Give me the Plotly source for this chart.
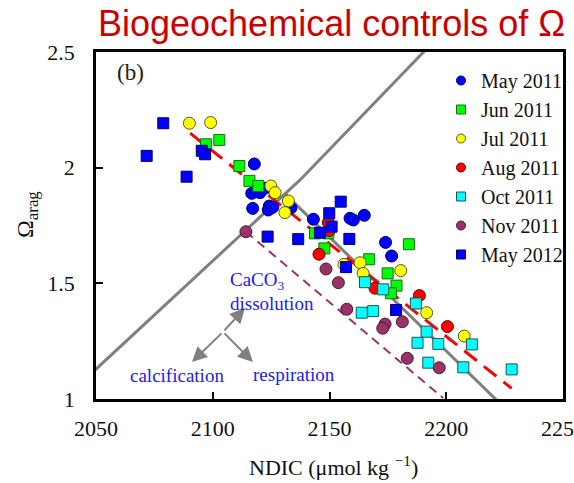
import plotly.graph_objects as go

# ---------------- data ----------------
may2011_x = [2117.8, 2116.7, 2120.2, 2122.4, 2117.1, 2124.2, 2123.8, 2125.7, 2133.5, 2143.1, 2158.8, 2160.2, 2164.9, 2174.0, 2176.6]
may2011_y = [2.016, 1.889, 1.892, 1.911, 1.824, 1.834, 1.817, 1.829, 1.826, 1.777, 1.781, 1.774, 1.794, 1.677, 1.618]

jun2011_x = [2097.1, 2102.8, 2111.4, 2115.7, 2119.5, 2143.8, 2149.5, 2147.8, 2184.0, 2167.0, 2174.9, 2178.7, 2176.3]
jun2011_y = [2.101, 2.120, 2.007, 1.943, 1.921, 1.716, 1.716, 1.651, 1.669, 1.604, 1.543, 1.490, 1.457]

jul2011_x = [2090.0, 2099.1, 2124.9, 2126.7, 2132.4, 2130.9, 2156.2, 2163.1, 2164.4, 2180.5, 2191.6, 2207.7]
jul2011_y = [2.192, 2.195, 1.921, 1.892, 1.856, 1.806, 1.582, 1.589, 1.543, 1.555, 1.373, 1.272]

aug2011_x = [2149.5, 2149.9, 2145.5, 2169.5, 2188.5, 2200.5]
aug2011_y = [1.763, 1.728, 1.626, 1.479, 1.447, 1.313]

oct2011_x = [2165.2, 2173.0, 2187.0, 2163.8, 2168.7, 2191.6, 2187.7, 2196.6, 2211.0, 2192.3, 2207.3, 2228.0]
oct2011_y = [1.505, 1.474, 1.413, 1.373, 1.380, 1.291, 1.243, 1.238, 1.236, 1.157, 1.137, 1.128]

nov2011_x = [2114.2, 2148.5, 2153.8, 2157.4, 2173.8, 2172.8, 2181.2, 2183.3, 2197.0]
nov2011_y = [1.723, 1.562, 1.503, 1.388, 1.324, 1.306, 1.334, 1.176, 1.135]

may2012_x = [2071.7, 2078.8, 2088.8, 2095.3, 2096.7, 2123.5, 2136.6, 2145.9, 2149.9, 2150.9, 2154.8, 2158.5, 2157.1, 2178.5]
may2012_y = [2.051, 2.192, 1.961, 2.073, 2.058, 1.702, 1.691, 1.719, 1.803, 1.745, 1.853, 1.692, 1.570, 1.385]

# reference lines
calc_line_x = [2048.8, 2137.4, 2192.3]
calc_line_y = [1.118, 1.947, 2.521]
resp_line_x = [2131.0, 2223.0]
resp_line_y = [1.887, 0.981]
red_fit_x = [2090.3, 2228.0]
red_fit_y = [2.149, 1.046]
nov_fit_x = [2114.2, 2198.7]
nov_fit_y = [1.723, 1.004]

# process arrows: origin and heads
arrow_origin = (2104.4, 1.290)
arrow_heads = [(2113.8, 1.393), (2091.1, 1.160), (2117.2, 1.160)]

x_ticks = [2050, 2100, 2150, 2200, 2250]
y_ticks = [1, 1.5, 2, 2.5]
y_ticktext = ["1", "1.5", "2", "2.5"]

series = [
    ("May 2011", may2011_x, may2011_y, "circle", "#0000FF", "#00006a"),
    ("Jun 2011", jun2011_x, jun2011_y, "square", "#00FF00", "#1a6a1a"),
    ("Jul 2011", jul2011_x, jul2011_y, "circle", "#FFFF00", "#555533"),
    ("Aug 2011", aug2011_x, aug2011_y, "circle", "#FF0000", "#6a0000"),
    ("Oct 2011", oct2011_x, oct2011_y, "square", "#00FFFF", "#1a5555"),
    ("Nov 2011", nov2011_x, nov2011_y, "circle", "#993366", "#4a1a33"),
    ("May 2012", may2012_x, may2012_y, "square", "#0000FF", "#00006a"),
]

SERIF = "Liberation Serif"

W, H = 574, 483
L, R, T, B = 96, 563, 52, 399


def px(xp):
    return (xp - L) / (R - L)


def py(yp):
    return (B - yp) / (B - T)


fig = go.Figure()

fig.add_trace(go.Scatter(x=calc_line_x, y=calc_line_y, mode="lines",
                         line=dict(color="#808080", width=3), showlegend=False, hoverinfo="skip"))
fig.add_trace(go.Scatter(x=resp_line_x, y=resp_line_y, mode="lines",
                         line=dict(color="#808080", width=3), showlegend=False, hoverinfo="skip"))
fig.add_trace(go.Scatter(x=nov_fit_x, y=nov_fit_y, mode="lines",
                         line=dict(color="#993366", width=2, dash="9px,6px"), showlegend=False, hoverinfo="skip"))
fig.add_trace(go.Scatter(x=red_fit_x, y=red_fit_y, mode="lines",
                         line=dict(color="#FF0000", width=3, dash="16px,9px"), showlegend=False, hoverinfo="skip"))

for name, xs, ys, sym, col, edge in series:
    size = 12 if sym == "circle" else 11
    fig.add_trace(go.Scatter(x=xs, y=ys, mode="markers", name=name, showlegend=False,
                             marker=dict(symbol=sym, size=size, color=col,
                                         line=dict(color=edge, width=1))))
# legend entries (smaller symbols, as in the reference)
for name, xs, ys, sym, col, edge in series:
    fig.add_trace(go.Scatter(x=[None], y=[None], mode="markers", name=name, showlegend=True,
                             marker=dict(symbol=sym, size=9, color=col,
                                         line=dict(color=edge, width=1))))

annotations = []
# process arrows
for hx, hy in arrow_heads:
    annotations.append(dict(x=hx, y=hy, ax=arrow_origin[0], ay=arrow_origin[1],
                            xref="x", yref="y", axref="x", ayref="y", text="",
                            showarrow=True, arrowhead=2, arrowsize=1.5, arrowwidth=2,
                            arrowcolor="#808080"))

blue_txt = "#2020F0"
annotations += [
    dict(x=px(331), y=py(24), xref="paper", yref="paper", text="Biogeochemical controls of Ω",
         showarrow=False, xanchor="center", yanchor="middle",
         font=dict(family="Liberation Sans", size=36, color="#CC0000")),
    dict(x=px(130), y=py(73), xref="paper", yref="paper", text="(b)", showarrow=False,
         xanchor="center", yanchor="middle", font=dict(family=SERIF, size=23, color="#222222")),
    dict(x=px(228), y=py(281), xref="paper", yref="paper", text="CaCO<sub>3</sub>", showarrow=False,
         xanchor="left", yanchor="middle", font=dict(family=SERIF, size=19, color=blue_txt)),
    dict(x=px(228), y=py(303), xref="paper", yref="paper", text="dissolution", showarrow=False,
         xanchor="left", yanchor="middle", font=dict(family=SERIF, size=19, color=blue_txt)),
    dict(x=px(177), y=py(375), xref="paper", yref="paper", text="calcification", showarrow=False,
         xanchor="center", yanchor="middle", font=dict(family=SERIF, size=19, color=blue_txt)),
    dict(x=px(294), y=py(374), xref="paper", yref="paper", text="respiration", showarrow=False,
         xanchor="center", yanchor="middle", font=dict(family=SERIF, size=19, color=blue_txt)),
    dict(x=px(333), y=py(466), xref="paper", yref="paper", text="NDIC (μmol kg <sup>−1</sup>)",
         showarrow=False, xanchor="center", yanchor="middle",
         font=dict(family=SERIF, size=22, color="#111111")),
    dict(x=px(27), y=py(215), xref="paper", yref="paper", text="Ω<sub>arag</sub>", textangle=-90,
         showarrow=False, xanchor="center", yanchor="middle",
         font=dict(family=SERIF, size=24, color="#111111")),
]

fig.update_layout(
    width=W, height=H,
    margin=dict(l=L, r=W - R, t=T, b=H - B, pad=0, autoexpand=False),
    paper_bgcolor="white", plot_bgcolor="white",
    annotations=annotations,
    showlegend=True,
    legend=dict(x=px(441), y=py(61), xanchor="left", yanchor="top",
                bgcolor="rgba(0,0,0,0)", borderwidth=0,
                font=dict(family=SERIF, size=20, color="#111111"),
                tracegroupgap=0, itemsizing="trace"),
    xaxis=dict(range=[2050, 2250], tickvals=x_ticks, ticktext=[str(v) for v in x_ticks],
               showgrid=False, zeroline=False, showline=True, linecolor="black", linewidth=2.5,
               mirror=True, ticks="inside", ticklen=7, tickwidth=2, tickcolor="black",
               tickfont=dict(family=SERIF, size=22, color="#111111"), automargin=False,
               ticklabelstandoff=8, ticklabeloverflow="allow"),
    yaxis=dict(range=[1, 2.5], tickvals=y_ticks, ticktext=y_ticktext,
               showgrid=False, zeroline=False, showline=True, linecolor="black", linewidth=2.5,
               mirror=True, ticks="inside", ticklen=7, tickwidth=2, tickcolor="black",
               tickfont=dict(family=SERIF, size=22, color="#111111"), automargin=False,
               ticklabelstandoff=14, ticklabeloverflow="allow"),
)

fig.write_html("out.html")
